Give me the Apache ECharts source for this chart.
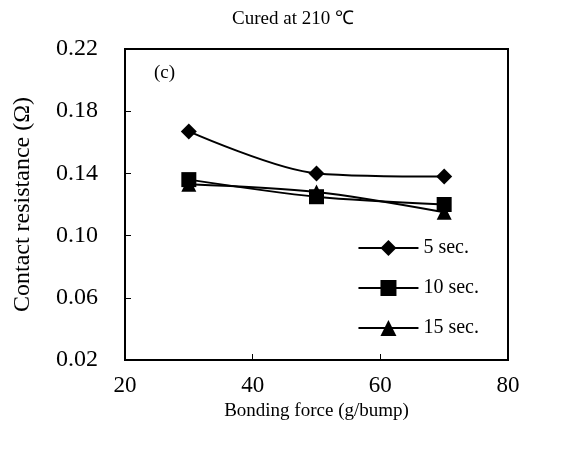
<!DOCTYPE html>
<html>
<head>
<meta charset="utf-8">
<script src="https://cdn.jsdelivr.net/npm/echarts@6/dist/echarts.min.js"></script>
<style>
  html, body { margin: 0; padding: 0; background: #fff; }
  #chart { width: 564px; height: 450px; }
</style>
</head>
<body>
<div id="chart"></div>
<script>
var force = [30, 50, 70];
var sec5 = [0.167, 0.140, 0.138];
var sec10 = [0.136, 0.125, 0.120];
var sec15 = [0.133, 0.128, 0.115];

var font = 'Liberation Serif';

function line(name, data, symbol, size) {
    return {
        name: name,
        type: 'line',
        smooth: 0.3,
        data: force.map(function (f, i) { return [f, data[i]]; }),
        symbol: symbol,
        symbolSize: size,
        lineStyle: { color: '#000', width: 2 },
        itemStyle: { color: '#000' }
    };
}

var chart = echarts.init(document.getElementById('chart'));
chart.setOption({
    backgroundColor: '#fff',
    animation: false,
    textStyle: { fontFamily: font, color: '#000' },
    title: {
        text: 'Cured at 210 ℃',
        left: 288, top: 5, textAlign: 'center',
        textStyle: { fontFamily: font, fontSize: 19, fontWeight: 'normal', color: '#000' }
    },
    graphic: [{
        type: 'text', left: 154, top: 64,
        style: { text: '(c)', font: '19px "Liberation Serif"', fill: '#000' }
    }],
    grid: {
        left: 125, right: 56, top: 49, bottom: 90,
        outerBoundsMode: 'none',
        show: true, borderColor: '#000', borderWidth: 2
    },
    legend: {
        orient: 'vertical',
        right: 80, top: 233,
        itemWidth: 60, itemHeight: 20, itemGap: 20,
        textStyle: { fontFamily: font, fontSize: 20, color: '#000' },
        data: ['5 sec.', '10 sec.', '15 sec.']
    },
    xAxis: {
        type: 'value', min: 20, max: 80, interval: 20,
        name: 'Bonding force (g/bump)', nameLocation: 'middle', nameGap: 42,
        nameTextStyle: { fontFamily: font, fontSize: 19, color: '#000' },
        axisLine: { lineStyle: { color: '#000', width: 2 } },
        axisTick: { inside: true, length: 6, lineStyle: { color: '#000' } },
        axisLabel: { fontFamily: font, fontSize: 23, color: '#000', margin: 14 },
        splitLine: { show: false }
    },
    yAxis: {
        type: 'value', min: 0.02, max: 0.22, interval: 0.04,
        name: 'Contact resistance (Ω)', nameLocation: 'middle', nameGap: 90,
        nameTextStyle: { fontFamily: font, fontSize: 24, color: '#000' },
        axisLine: { show: true, lineStyle: { color: '#000', width: 2 } },
        axisTick: { show: true, inside: true, length: 6, lineStyle: { color: '#000' } },
        axisLabel: {
            fontFamily: font, fontSize: 24, color: '#000', margin: 27,
            formatter: function (v) { return v.toFixed(2); }
        },
        splitLine: { show: false }
    },
    series: [
        line('5 sec.', sec5, 'diamond', 16),
        line('10 sec.', sec10, 'rect', 15),
        line('15 sec.', sec15, 'triangle', 15)
    ]
});
</script>
</body>
</html>
